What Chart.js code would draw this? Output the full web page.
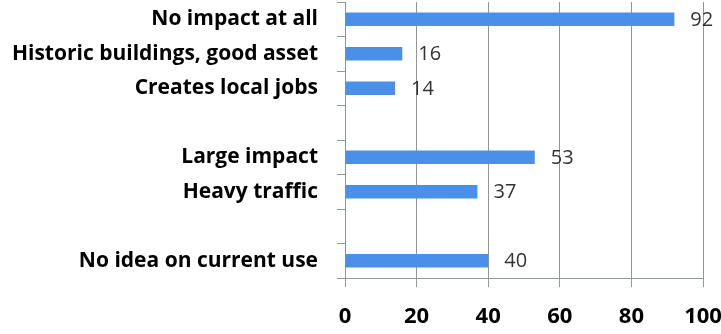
<!DOCTYPE html>
<html>
<head>
<meta charset="utf-8">
<script src="https://cdn.jsdelivr.net/npm/chart.js@4"></script>
<style>
  html, body { margin: 0; padding: 0; background: #fff; }
  #wrap { width: 721px; height: 334px; }
</style>
</head>
<body>
<div id="wrap"><canvas id="impactChart"></canvas></div>
<script>
// --- data ---
const categories = ['No impact at all', 'Historic buildings, good asset', 'Creates local jobs', '',
                    'Large impact', 'Heavy traffic', '', 'No idea on current use'];
const responses = [92, 16, 14, null, 53, 37, null, 40];
const xTicks = [0, 20, 40, 60, 80, 100];

const barBlue = '#4a8fe8';
const gridGray = '#8e9896';

// draws the number just after the end of each bar
const valueLabels = {
    id: 'valueLabels',
    afterDatasetsDraw(chart) {
        const { ctx } = chart;
        const meta = chart.getDatasetMeta(0);
        ctx.save();
        ctx.font = '20px "Open Sans"';
        ctx.fillStyle = '#333333';
        ctx.textAlign = 'left';
        ctx.textBaseline = 'middle';
        meta.data.forEach((bar, i) => {
            const v = responses[i];
            if (v === null) return;
            ctx.fillText(String(v), bar.x + 16, bar.y + 1);
        });
        ctx.restore();
    }
};

new Chart(document.getElementById('impactChart'), {
    type: 'bar',
    data: {
        labels: categories,
        datasets: [{
            data: responses,
            backgroundColor: barBlue,
            borderWidth: 0,
            barPercentage: 0.78,
            categoryPercentage: 0.5
        }]
    },
    options: {
        indexAxis: 'y',
        responsive: true,
        maintainAspectRatio: false,
        animation: false,
        layout: { padding: { top: 2, right: 18, left: 0, bottom: 0 } },
        plugins: {
            legend: { display: false },
            tooltip: { enabled: false }
        },
        scales: {
            x: {
                min: 0,
                max: 100,
                afterBuildTicks: (scale) => { scale.ticks = xTicks.map(v => ({ value: v })); },
                afterFit: (scale) => {
                    scale.height = 56;
                    scale.paddingLeft = 0;
                    scale.paddingRight = 0;
                },
                grid: { color: gridGray, lineWidth: 1, tickLength: 9 },
                border: { color: gridGray },
                ticks: {
                    color: '#000',
                    font: { family: 'Open Sans', size: 22, weight: 'bold' },
                    padding: 17,
                    maxRotation: 0
                }
            },
            y: {
                afterFit: (scale) => {
                    scale.width = 345;
                    scale.paddingTop = 0;
                    scale.paddingBottom = 0;
                },
                grid: { drawOnChartArea: false, color: gridGray, tickLength: 8, offset: true },
                border: { color: gridGray },
                ticks: {
                    color: '#000',
                    font: { family: 'Open Sans', size: 21, weight: 'bold' },
                    padding: 19,
                    autoSkip: false
                }
            }
        }
    },
    plugins: [valueLabels]
});
</script>
</body>
</html>
